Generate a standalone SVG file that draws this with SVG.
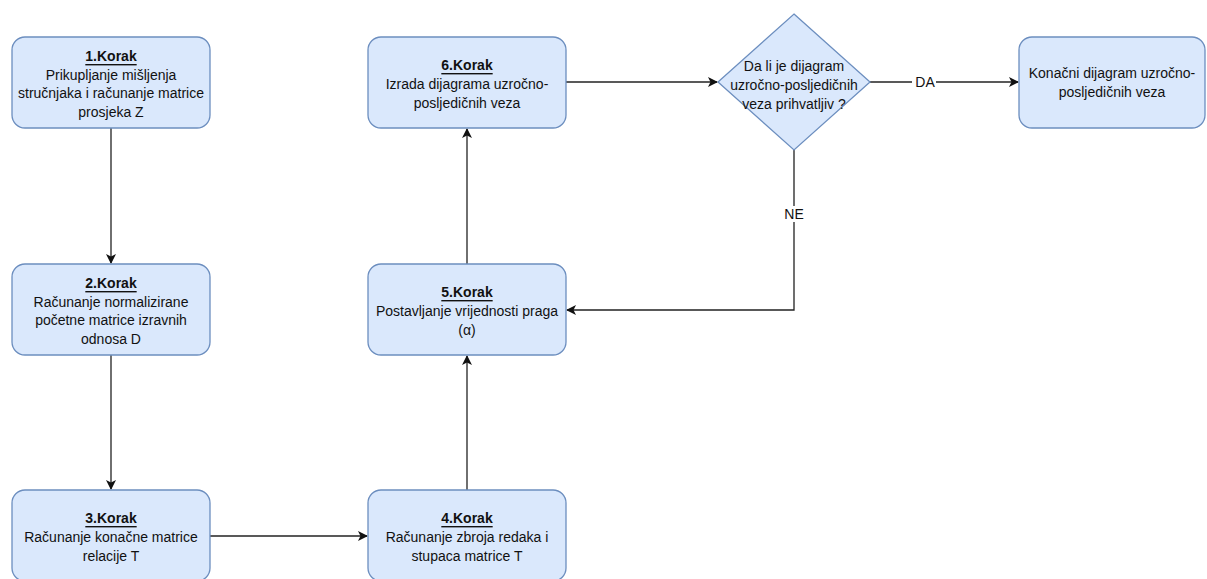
<svg xmlns="http://www.w3.org/2000/svg" width="1207" height="579" viewBox="0 0 1207 579">
  <style>
    .box { fill: #dae8fc; stroke: #6c8ebf; stroke-width: 1.3; }
    .lbl { font-family: "Liberation Sans", Arial, sans-serif; font-size: 14px; fill: #111; text-anchor: middle; dominant-baseline: central; }
    .step { font-weight: bold; text-decoration: underline; }
    .edge { fill: none; stroke: #222; stroke-width: 1.3; }
    .tag { fill: #fff; }
  </style>
  <defs>
    <marker id="arrow" viewBox="0 0 10 10" refX="9" refY="5" markerWidth="10" markerHeight="10" markerUnits="userSpaceOnUse" orient="auto">
      <path d="M0,0 L10,5 L0,10 L2.5,5 Z" fill="#111"/>
    </marker>
  </defs>

  <!-- connectors -->
  <g id="connectors">
    <path class="edge" d="M111,128 V263" marker-end="url(#arrow)"/>
    <path class="edge" d="M111,355 V489" marker-end="url(#arrow)"/>
    <path class="edge" d="M210,536 H367" marker-end="url(#arrow)"/>
    <path class="edge" d="M467,490 V356" marker-end="url(#arrow)"/>
    <path class="edge" d="M467,264 V129" marker-end="url(#arrow)"/>
    <path class="edge" d="M566,82 H717" marker-end="url(#arrow)"/>
    <path class="edge" d="M870,82 H1018" marker-end="url(#arrow)"/>
    <path class="edge" d="M794,150 V310 H567" marker-end="url(#arrow)"/>
    <rect class="tag" x="912" y="74" width="24" height="16"/>
    <text class="lbl" x="925" y="82">DA</text>
    <rect class="tag" x="782" y="206" width="24" height="16"/>
    <text class="lbl" x="794" y="214">NE</text>
  </g>

  <g id="step1">
    <rect class="box" x="12" y="37" width="198" height="91" rx="13"/>
    <text class="lbl" x="111" y="56"><tspan class="step">1.Korak</tspan></text>
    <text class="lbl" x="111" y="74.5">Prikupljanje mišljenja</text>
    <text class="lbl" x="111" y="93">stručnjaka i računanje matrice</text>
    <text class="lbl" x="111" y="111.5">prosjeka Z</text>
  </g>

  <g id="step2">
    <rect class="box" x="12" y="264" width="198" height="91" rx="13"/>
    <text class="lbl" x="111" y="283"><tspan class="step">2.Korak</tspan></text>
    <text class="lbl" x="111" y="301.5">Računanje normalizirane</text>
    <text class="lbl" x="111" y="320">početne matrice izravnih</text>
    <text class="lbl" x="111" y="338.5">odnosa D</text>
  </g>

  <g id="step3">
    <rect class="box" x="12" y="490" width="198" height="91" rx="13"/>
    <text class="lbl" x="111" y="518"><tspan class="step">3.Korak</tspan></text>
    <text class="lbl" x="111" y="537">Računanje konačne matrice</text>
    <text class="lbl" x="111" y="556">relacije T</text>
  </g>

  <g id="step4">
    <rect class="box" x="368" y="490" width="198" height="91" rx="13"/>
    <text class="lbl" x="467" y="518"><tspan class="step">4.Korak</tspan></text>
    <text class="lbl" x="467" y="537">Računanje zbroja redaka i</text>
    <text class="lbl" x="467" y="556">stupaca matrice T</text>
  </g>

  <g id="step5">
    <rect class="box" x="368" y="264" width="198" height="91" rx="13"/>
    <text class="lbl" x="467" y="292"><tspan class="step">5.Korak</tspan></text>
    <text class="lbl" x="467" y="311">Postavljanje vrijednosti praga</text>
    <text class="lbl" x="467" y="330">(α)</text>
  </g>

  <g id="step6">
    <rect class="box" x="368" y="37" width="198" height="91" rx="13"/>
    <text class="lbl" x="467" y="65"><tspan class="step">6.Korak</tspan></text>
    <text class="lbl" x="467" y="84">Izrada dijagrama uzročno-</text>
    <text class="lbl" x="467" y="103">posljedičnih veza</text>
  </g>

  <g id="decision">
    <polygon class="box" points="794,14 870,82 794,150 718,82"/>
    <text class="lbl" x="794" y="66">Da li je dijagram</text>
    <text class="lbl" x="794" y="85">uzročno-posljedičnih</text>
    <text class="lbl" x="794" y="104">veza prihvatljiv ?</text>
  </g>

  <g id="final">
    <rect class="box" x="1019" y="37" width="186" height="91" rx="13"/>
    <text class="lbl" x="1112" y="73">Konačni dijagram uzročno-</text>
    <text class="lbl" x="1112" y="92">posljedičnih veza</text>
  </g>
</svg>
